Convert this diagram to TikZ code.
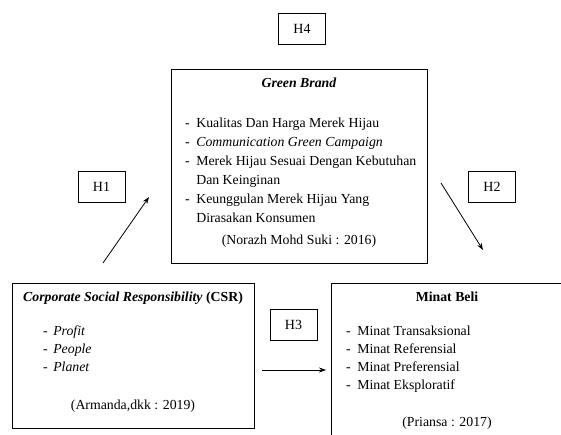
\documentclass[tikz,border=0pt]{standalone}
\usepackage{fontspec}
\setmainfont{Liberation Serif}
\newfontfamily\tnr{Liberation Serif}
\usetikzlibrary{arrows.meta,positioning}

\begin{document}
\begin{tikzpicture}[x=1pt,y=-1pt,
    box/.style={draw,line width=0.9pt,inner sep=0pt},
    hbox/.style={box,minimum width=47pt,minimum height=31pt,font=\tnr\fontsize{14}{16}\selectfont},
    txt/.style={inner sep=0pt,font=\tnr\fontsize{13.8}{18}\selectfont},
    gbtxt/.style={inner sep=0pt,font=\tnr\fontsize{13.8}{19}\selectfont},
    link/.style={-{Stealth[length=7pt,width=5pt]},line width=0.8pt}]
  \clip (0,0) rectangle (561,435);
  % hypothesis labels
  \node[hbox] (h4) at (302,28.5) {H4};
  \node[hbox] (h1) at (101.5,186.5) {H1};
  \node[hbox] (h2) at (492,186.5) {H2};
  \node[hbox] (h3) at (293.5,325) {H3};
  % variable boxes
  \node[box,minimum width=256pt,minimum height=194pt] (gb) at (299,166) {};
  \node[box,minimum width=242pt,minimum height=145pt] (csr) at (133,355.5) {};
  \node[box,minimum width=232pt,minimum height=164pt] (mb) at (447,365) {};
  % green brand
  \node[gbtxt,anchor=base] (gbtitle) at (299,87.5) {\textbf{\textit{Green Brand}}};
  \node[gbtxt,anchor=base west] (gblist) at (185,127.5) {\begin{tabular}[t]{@{}l@{\hspace{6.5pt}}l@{}}
    - & Kualitas Dan Harga Merek Hijau\\
    - & \textit{Communication Green Campaign}\\
    - & Merek Hijau Sesuai Dengan Kebutuhan\\
      & Dan Keinginan\\
    - & Keunggulan Merek Hijau Yang\\
      & Dirasakan Konsumen
  \end{tabular}};
  \node[gbtxt,anchor=base] (gbcite) at (299,244.5) {(Norazh Mohd Suki : 2016)};
  % csr
  \node[txt,anchor=base] (csrtitle) at (133,301.5) {\textbf{\textit{Corporate Social Responsibility} (CSR)}};
  \node[txt,anchor=base west] (csrlist) at (43,335.5) {\begin{tabular}[t]{@{}l@{\hspace{5.5pt}}l@{}}
    - & \textit{Profit}\\
    - & \textit{People}\\
    - & \textit{Planet}
  \end{tabular}};
  \node[txt,anchor=base] (csrcite) at (133,409.5) {(Armanda,dkk : 2019)};
  % minat beli
  \node[txt,anchor=base] (mbtitle) at (447,301.5) {\textbf{Minat Beli}};
  \node[txt,anchor=base west] (mblist) at (346,335.5) {\begin{tabular}[t]{@{}l@{\hspace{6.5pt}}l@{}}
    - & Minat Transaksional\\
    - & Minat Referensial\\
    - & Minat Preferensial\\
    - & Minat Eksploratif
  \end{tabular}};
  \node[txt,anchor=base] (mbcite) at (447,426.5) {(Priansa : 2017)};
  % arrows
  \coordinate (a1s) at (103,263);
  \coordinate (a1e) at (149,197);
  \coordinate (a2s) at (441,183);
  \coordinate (a2e) at (483,250);
  \coordinate (a3s) at (262,370);
  \coordinate (a3e) at (326,370);
  \draw[link] (a1s) -- (a1e);
  \draw[link] (a2s) -- (a2e);
  \draw[link] (a3s) -- (a3e);
\end{tikzpicture}
\end{document}
